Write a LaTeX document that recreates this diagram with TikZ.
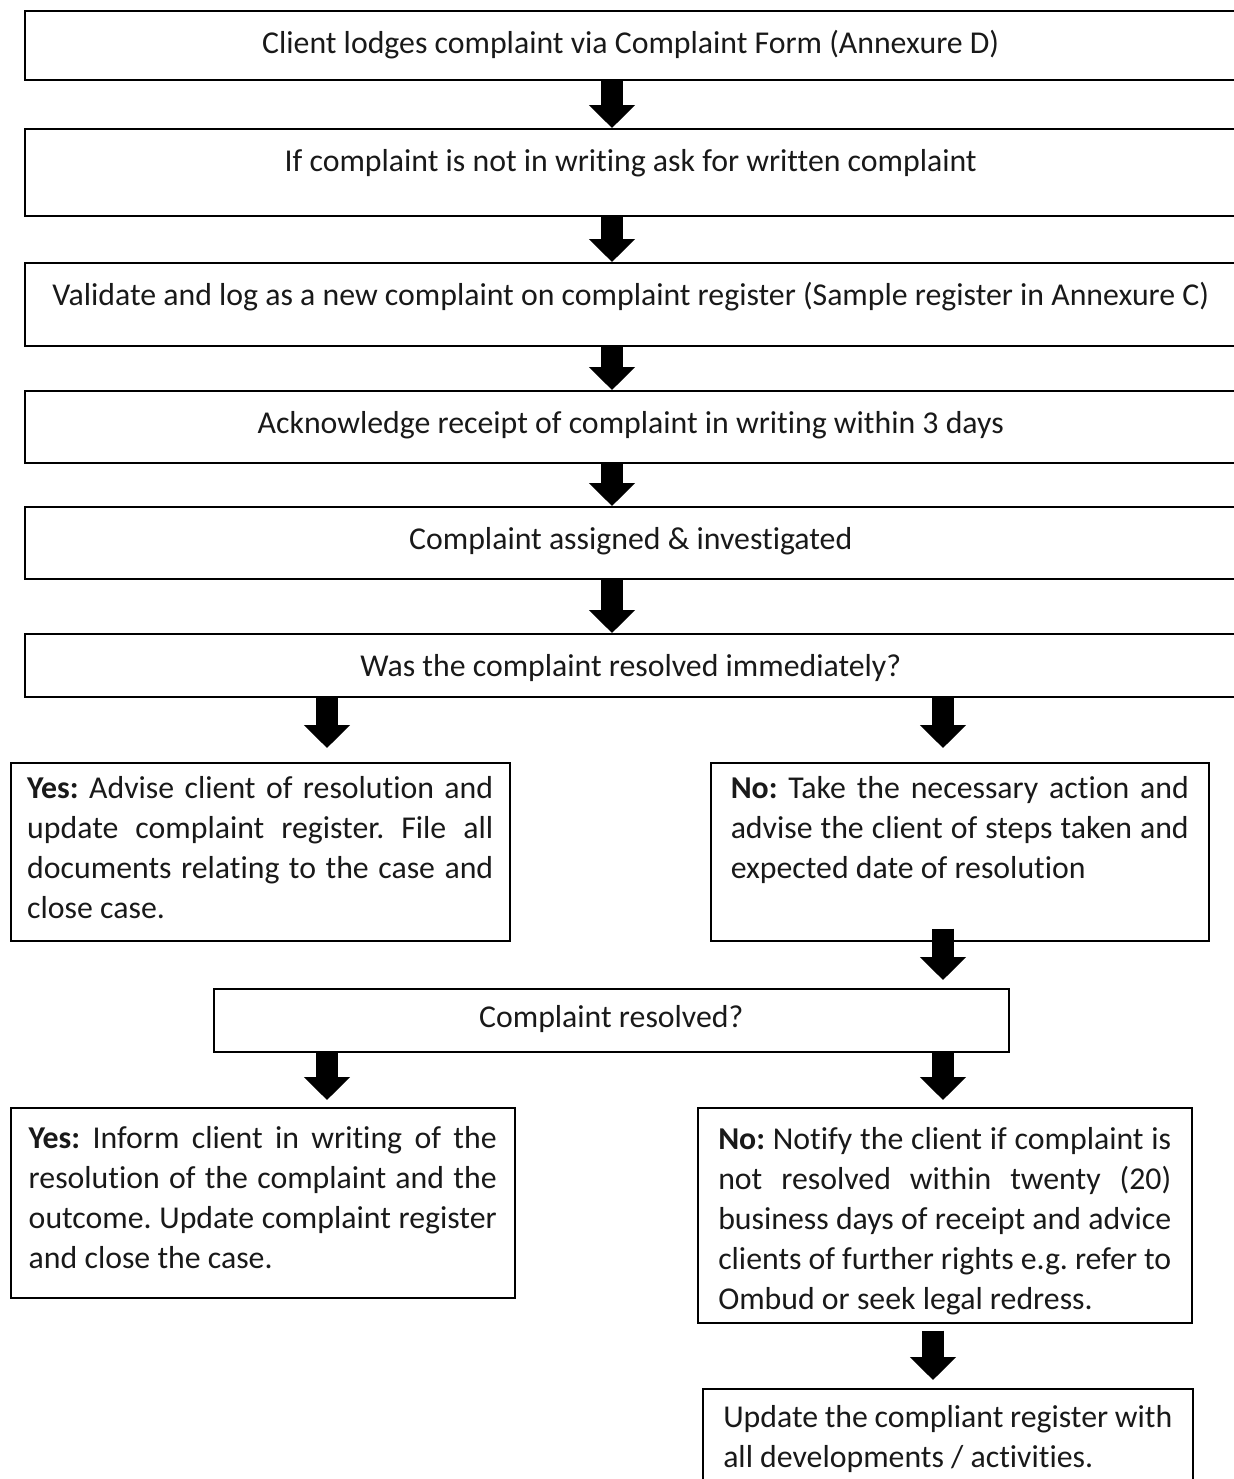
\documentclass[tikz,border=0pt]{standalone}
\usepackage{fontspec}
\setmainfont{Carlito}[Ligatures={NoCommon}]
\usepackage{tikz}
\usetikzlibrary{arrows.meta, positioning}
\tolerance=9999
\hyphenpenalty=10000
\frenchspacing
\tikzset{
    stepbox/.style={rectangle, draw=black, line width=0.75pt, anchor=north west, inner xsep=0pt, inner ysep=0pt, text=black!90, font=\fontsize{15.9}{20}\selectfont},
    widebox/.style={stepbox, minimum width=606pt, text height=21.5pt},
    sidebox/.style={stepbox, align=justify},
    arrow/.style={line width=11pt, -{Triangle[width=22.5pt, length=11.5pt]}}
}

\begin{document}
\begin{tikzpicture}[x=0.5pt, y=-0.5pt]
    \useasboundingbox (0,0) rectangle (1234,1479);
    \coordinate (mid) at (612,0);
    \coordinate (lc) at (327,0);
    \coordinate (rc) at (943,0);
    \coordinate (rc2) at (933,0);

    \node (lodge) [widebox, text depth=13pt] at (24,10) {Client lodges complaint via Complaint Form (Annexure D)};
    \node (writing) [widebox, text depth=22pt] at (24,128) {If complaint is not in writing ask for written complaint};
    \node (validate) [widebox, text depth=20pt] at (24,262) {Validate and log as a new complaint on complaint register (Sample register in Annexure C)};
    \node (ack) [widebox, text depth=14.5pt] at (24,390) {Acknowledge receipt of complaint in writing within 3 days};
    \node (assign) [widebox, text depth=14.5pt] at (24,506) {Complaint assigned \& investigated};
    \node (immed) [widebox, text depth=10pt] at (24,633) {Was the complaint resolved immediately?};

    \node (yes1) [sidebox, minimum width=249.5pt, text width=233pt, text height=18pt, text depth=71pt] at (10,762)
        {\textbf{Yes:} Advise client of resolution and\linebreak update complaint register. File all\linebreak documents relating to the case and\linebreak close case.};
    \node (no1) [sidebox, minimum width=249pt, text width=229pt, text height=18pt, text depth=71pt] at (710,762)
        {\textbf{No:} Take the necessary action and\linebreak advise the client of steps taken and\linebreak expected date of resolution};

    \node (resolved) [stepbox, minimum width=397.5pt, text height=19.5pt, text depth=12pt] at (213,988) {Complaint resolved?};

    \node (yes2) [sidebox, minimum width=252pt, text width=234pt, text height=20.5pt, text depth=74.5pt] at (10,1107)
        {\textbf{Yes:} Inform client in writing of the\linebreak resolution of the complaint and the\linebreak outcome. Update complaint register\linebreak and close the case.};
    \node (no2) [sidebox, minimum width=247pt, text width=226.5pt, text height=21pt, text depth=86.5pt] at (697,1107)
        {\textbf{No:} Notify the client if complaint is\linebreak not resolved within twenty (20)\linebreak business days of receipt and advice\linebreak clients of further rights e.g. refer to\linebreak Ombud or seek legal redress.};
    \node (update) [sidebox, minimum width=245pt, text width=224.5pt, text height=19.5pt, text depth=36.5pt] at (702,1388)
        {Update the compliant register with\linebreak all developments / activities.};

    \draw [arrow] (lodge.south -| mid) -- (writing.north -| mid);
    \draw [arrow] (writing.south -| mid) -- (validate.north -| mid);
    \draw [arrow] (validate.south -| mid) -- (ack.north -| mid);
    \draw [arrow] (ack.south -| mid) -- (assign.north -| mid);
    \draw [arrow] (assign.south -| mid) -- (immed.north -| mid);
    \draw [arrow, shorten >=7pt] (immed.south -| lc) -- (yes1.north -| lc);
    \draw [arrow, shorten >=7pt] (immed.south -| rc) -- (no1.north -| rc);
    \draw [arrow, shorten <=-6.5pt, shorten >=4pt] (no1.south -| rc) -- (resolved.north -| rc);
    \draw [arrow, shorten >=3.5pt] (resolved.south -| lc) -- (yes2.north -| lc);
    \draw [arrow, shorten >=3.5pt] (resolved.south -| rc) -- (no2.north -| rc);
    \draw [arrow, shorten <=3.5pt, shorten >=4pt] (no2.south -| rc2) -- (update.north -| rc2);
\end{tikzpicture}
\end{document}
